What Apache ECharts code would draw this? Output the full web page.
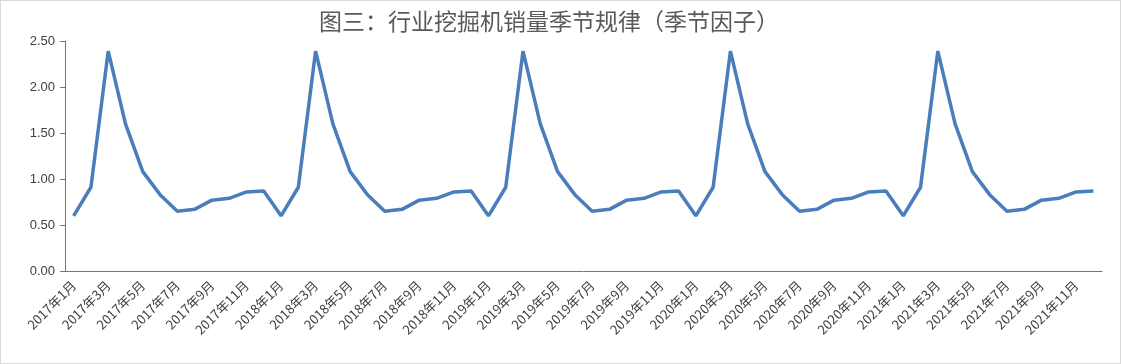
<!DOCTYPE html>
<html><head><meta charset="utf-8">
<script src="https://cdn.jsdelivr.net/npm/echarts@6/dist/echarts.min.js"></script>
<style>html,body{margin:0;padding:0;background:#fff}#c{width:1119px;height:362px;border:1px solid #d9d9d9}</style>
</head><body><div id="c"></div>
<script>
const years = [2017, 2018, 2019, 2020, 2021];
const seasonalFactors = [0.60, 0.91, 2.39, 1.60, 1.08, 0.83, 0.65, 0.67, 0.77, 0.79, 0.86, 0.87];
const yTicks = [0, 0.5, 1.0, 1.5, 2.0, 2.5];
const categories = [];
const values = [];
years.forEach(y => { seasonalFactors.forEach((v, i) => { categories.push(y + '年' + (i + 1) + '月'); values.push(v); }); });
const chart = echarts.init(document.getElementById('c'));
chart.setOption({
  animation: false,
  title: { text: '图三：行业挖掘机销量季节规律（季节因子）', left: 313, top: 4,
    textStyle: { fontSize: 23, fontWeight: 'normal', color: '#595959', fontFamily: 'Noto Sans CJK SC' } },
  grid: { left: 64, right: 18, top: 40, bottom: 92 },
  xAxis: { type: 'category', data: categories, boundaryGap: true,
    axisLine: { lineStyle: { color: '#4a7ebb', width: 1 } },
    axisTick: { interval: 1, length: 5, lineStyle: { color: '#4a7ebb' } },
    axisLabel: { interval: 1, rotate: 45, fontSize: 13, color: '#404040', fontFamily: 'Noto Sans CJK SC', margin: 12 } },
  yAxis: { type: 'value', min: yTicks[0], max: yTicks[yTicks.length - 1], interval: 0.5,
    axisLine: { show: true, lineStyle: { color: '#4a7ebb', width: 1 } },
    axisTick: { show: true, length: 5, lineStyle: { color: '#4a7ebb' } },
    splitLine: { show: false },
    axisLabel: { formatter: v => v.toFixed(2), fontSize: 13, color: '#404040', fontFamily: 'Liberation Sans', margin: 10 } },
  series: [{ type: 'line', data: values, symbol: 'none', lineStyle: { color: '#4a7ebb', width: 3.5 } }]
});
</script></body></html>
